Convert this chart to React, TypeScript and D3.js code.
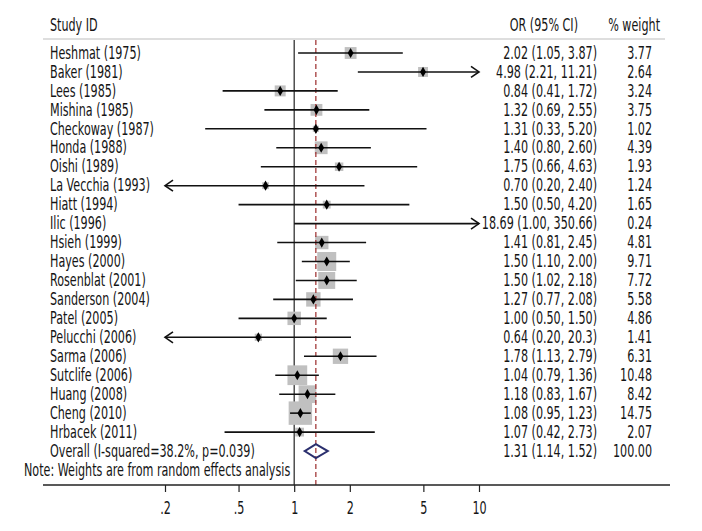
import * as d3 from "d3";
import React, { useRef, useEffect } from "react";

const studies = [
  "Heshmat (1975)", "Baker (1981)", "Lees (1985)", "Mishina (1985)", "Checkoway (1987)",
  "Honda (1988)", "Oishi (1989)", "La Vecchia (1993)", "Hiatt (1994)", "Ilic (1996)",
  "Hsieh (1999)", "Hayes (2000)", "Rosenblat (2001)", "Sanderson (2004)", "Patel (2005)",
  "Pelucchi (2006)", "Sarma (2006)", "Sutclife (2006)", "Huang (2008)", "Cheng (2010)",
  "Hrbacek (2011)",
];
const or = [2.02, 4.98, 0.84, 1.32, 1.31, 1.4, 1.75, 0.7, 1.5, 18.69, 1.41, 1.5, 1.5, 1.27, 1.0, 0.64, 1.78, 1.04, 1.18, 1.08, 1.07];
const lower = [1.05, 2.21, 0.41, 0.69, 0.33, 0.8, 0.66, 0.2, 0.5, 1.0, 0.81, 1.1, 1.02, 0.77, 0.5, 0.2, 1.13, 0.79, 0.83, 0.95, 0.42];
// drawn upper bounds (Pelucchi's line stops near 2.03 in the figure)
const upper = [3.87, 11.21, 1.72, 2.55, 5.2, 2.6, 4.63, 2.4, 4.2, 350.66, 2.45, 2.0, 2.18, 2.08, 1.5, 2.03, 2.79, 1.36, 1.67, 1.23, 2.73];
const ciLabels = [
  "2.02 (1.05, 3.87)", "4.98 (2.21, 11.21)", "0.84 (0.41, 1.72)", "1.32 (0.69, 2.55)", "1.31 (0.33, 5.20)",
  "1.40 (0.80, 2.60)", "1.75 (0.66, 4.63)", "0.70 (0.20, 2.40)", "1.50 (0.50, 4.20)", "18.69 (1.00, 350.66)",
  "1.41 (0.81, 2.45)", "1.50 (1.10, 2.00)", "1.50 (1.02, 2.18)", "1.27 (0.77, 2.08)", "1.00 (0.50, 1.50)",
  "0.64 (0.20, 20.3)", "1.78 (1.13, 2.79)", "1.04 (0.79, 1.36)", "1.18 (0.83, 1.67)", "1.08 (0.95, 1.23)",
  "1.07 (0.42, 2.73)",
];
const weights = [3.77, 2.64, 3.24, 3.75, 1.02, 4.39, 1.93, 1.24, 1.65, 0.24, 4.81, 9.71, 7.72, 5.58, 4.86, 1.41, 6.31, 10.48, 8.42, 14.75, 2.07];

const overall = { label: "Overall (I-squared=38.2%, p=0.039)", or: 1.31, lo: 1.14, hi: 1.52, ci: "1.31 (1.14, 1.52)", w: "100.00" };
const note = "Note: Weights are from random effects analysis";
const tickValues = [0.2, 0.5, 1, 2, 5, 10];
const tickLabels = [".2", ".5", "1", "2", "5", "10"];

const W = 702;
const H = 531;
const FONT = "'DejaVu Sans Condensed', 'DejaVu Sans', sans-serif";
const FS = "17px";
const SX = 0.73; // horizontal squeeze to imitate the condensed face

export default function App() {
  const ref = useRef<SVGSVGElement>(null);

  useEffect(() => {
    const svg = d3.select(ref.current);
    svg.selectAll("*").remove();

    const x = d3.scaleLog().domain([0.2, 10]).range([165, 479]);
    const rows = [...studies, "overall", "note"];
    const y = d3.scalePoint<string>().domain(rows).range([53, 470]);
    const axisY = 485;
    const topY = 40;

    const g = svg.append("g").style("font-family", FONT).style("font-size", FS).attr("fill", "#151515");

    const label = (tx: number, ty: number, s: string, anchor = "start") =>
      g.append("text")
        .attr("transform", `translate(${tx},${ty}) scale(${SX},1)`)
        .attr("dominant-baseline", "central")
        .attr("text-anchor", anchor)
        .text(s);

    // header
    label(50, 25, "Study ID");
    label(578, 25, "OR (95% CI)", "end");
    label(660, 25, "% weight", "end");
    g.append("line").attr("x1", 43).attr("x2", 665).attr("y1", 39).attr("y2", 39).attr("stroke", "#bdbdbd").attr("stroke-width", 1.2);

    // null line
    g.append("line").attr("x1", x(1)).attr("x2", x(1)).attr("y1", topY).attr("y2", axisY).attr("stroke", "#222").attr("stroke-width", 1.2);

    const boxSide = (w: number) => 6.1 * Math.sqrt(w);
    const [xmin, xmax] = x.domain();

    // weight boxes
    g.selectAll("rect.box")
      .data(studies)
      .enter()
      .append("rect")
      .attr("class", "box")
      .attr("x", (d, i) => x(or[i]) - boxSide(weights[i]) / 2)
      .attr("y", (d, i) => (y(d) as number) - boxSide(weights[i]) / 2)
      .attr("width", (d, i) => boxSide(weights[i]))
      .attr("height", (d, i) => boxSide(weights[i]))
      .attr("fill", "#c0c0c0")
      .attr("display", (d, i) => (or[i] > xmax ? "none" : null));

    // overall effect line
    g.append("line").attr("x1", x(overall.or)).attr("x2", x(overall.or)).attr("y1", topY).attr("y2", axisY)
      .attr("stroke", "#9b2a2a").attr("stroke-width", 1.2).attr("stroke-dasharray", "5,3");

    // CI lines
    studies.forEach((s, i) => {
      const cy = y(s) as number;
      const x1 = x(Math.max(lower[i], xmin));
      const x2 = x(Math.min(upper[i], xmax));
      g.append("line").attr("x1", x1).attr("x2", x2).attr("y1", cy).attr("y2", cy).attr("stroke", "#111").attr("stroke-width", 1.6);
      if (lower[i] <= xmin) {
        g.append("path").attr("d", `M${x1 + 8},${cy - 5.5}L${x1},${cy}L${x1 + 8},${cy + 5.5}`)
          .attr("fill", "none").attr("stroke", "#111").attr("stroke-width", 1.6);
      }
      if (upper[i] >= xmax) {
        g.append("path").attr("d", `M${x2 - 8},${cy - 5.5}L${x2},${cy}L${x2 - 8},${cy + 5.5}`)
          .attr("fill", "none").attr("stroke", "#111").attr("stroke-width", 1.6);
      }
      if (or[i] <= xmax) {
        g.append("path").attr("d", d3.symbol(d3.symbolDiamond, 30)()).attr("transform", `translate(${x(or[i])},${cy})`).attr("fill", "#000");
      }
    });

    // overall diamond
    const oy = y("overall") as number;
    g.append("path")
      .attr("d", `M${x(overall.lo)},${oy}L${x(overall.or)},${oy - 7}L${x(overall.hi)},${oy}L${x(overall.or)},${oy + 7}Z`)
      .attr("fill", "none").attr("stroke", "#2b2f6e").attr("stroke-width", 2);

    // left column
    studies.forEach((s) => label(50, y(s) as number, s));
    label(50, oy, overall.label);
    label(24, y("note") as number, note);

    // right columns
    ciLabels.forEach((c, i) => label(597, y(studies[i]) as number, c, "end"));
    weights.forEach((w, i) => label(652, y(studies[i]) as number, w.toFixed(2), "end"));
    label(597, oy, overall.ci, "end");
    label(652, oy, overall.w, "end");

    // axis
    const axis = d3.axisBottom(x).tickValues(tickValues).tickFormat((d, i) => tickLabels[i]).tickSize(7).tickSizeOuter(0);
    const ax = g.append("g").attr("transform", `translate(0,${axisY})`).call(axis);
    ax.select(".domain").remove();
    ax.selectAll(".tick text")
      .attr("font-family", FONT).attr("font-size", FS).attr("fill", "#151515")
      .attr("y", 17).attr("transform", `scale(${SX},1)`);
    ax.selectAll(".tick line").attr("stroke", "#222").attr("stroke-width", 1.2);
    g.append("line").attr("x1", 43).attr("x2", 670).attr("y1", axisY).attr("y2", axisY).attr("stroke", "#222").attr("stroke-width", 1.4);
  }, []);

  return (
    <div style={{ position: "absolute", left: 0, top: 0 }}>
      <svg ref={ref} width={W} height={H} style={{ display: "block", background: "#fff" }}></svg>
    </div>
  );
}
